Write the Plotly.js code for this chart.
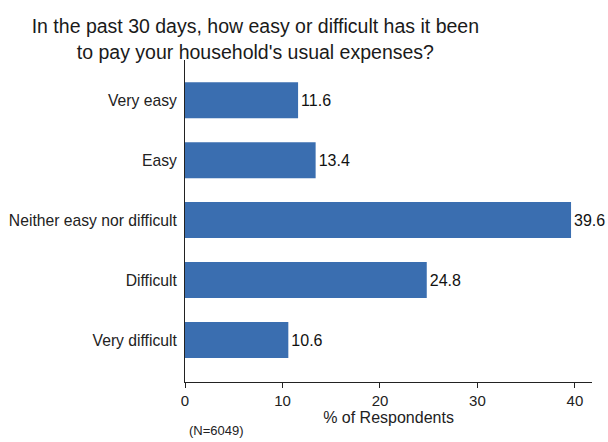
<!DOCTYPE html>
<html><head><meta charset="utf-8">
<script src="https://cdn.plot.ly/plotly-3.0.1.min.js"></script>
<style>html,body{margin:0;padding:0;background:#fff}</style>
</head><body>
<div id="chart" style="width:608px;height:442px"></div>
<script>
const categories = ["Very easy", "Easy", "Neither easy nor difficult", "Difficult", "Very difficult"];
const percents = [11.6, 13.4, 39.6, 24.8, 10.6];
const xTicks = [0, 10, 20, 30, 40];
const titleText = "In the past 30 days, how easy or difficult has it been<br>to pay your household's usual expenses?";
const noteText = "(N=6049)";

const font = "Arial, 'Liberation Sans', sans-serif";
Plotly.newPlot("chart", [{
  type: "bar",
  orientation: "h",
  y: categories,
  x: percents,
  width: 0.6,
  marker: {color: "#3a6eb0", line: {width: 0}},
  text: percents.map(v => v.toFixed(1)),
  textposition: "outside",
  cliponaxis: false,
  textfont: {family: font, size: 16, color: "#111"},
  hoverinfo: "skip"
}], {
  width: 608, height: 442,
  margin: {l: 185, r: 16, t: 60, b: 60},
  paper_bgcolor: "#fff", plot_bgcolor: "#fff",
  showlegend: false,
  title: {text: titleText, font: {family: font, size: 19.5, color: "#1a1a1a"}, x: 0.42, xanchor: "center", y: 0.925, yanchor: "middle"},
  xaxis: {
    range: [0, 41.75], tickvals: xTicks, ticktext: xTicks.map(String),
    showgrid: false, zeroline: false, showline: true, linecolor: "#222", linewidth: 1,
    ticks: "outside", ticklen: 5, tickcolor: "#222",
    tickfont: {family: font, size: 15, color: "#222"},
    title: {text: "% of Respondents", font: {family: font, size: 16, color: "#222"}, standoff: 0}
  },
  yaxis: {
    type: "category", range: [4.7, -0.67],
    showgrid: false, zeroline: false, showline: true, linecolor: "#222", linewidth: 1,
    ticks: "", ticklabelstandoff: 4,
    tickfont: {family: font, size: 15.7, color: "#222"}
  },
  annotations: [{
    text: noteText, xref: "paper", yref: "paper", x: 0.005, y: 0, yshift: -58,
    xanchor: "left", yanchor: "bottom", showarrow: false,
    font: {family: font, size: 13, color: "#222"}
  }]
}, {displayModeBar: false, staticPlot: true});
</script>
</body></html>
